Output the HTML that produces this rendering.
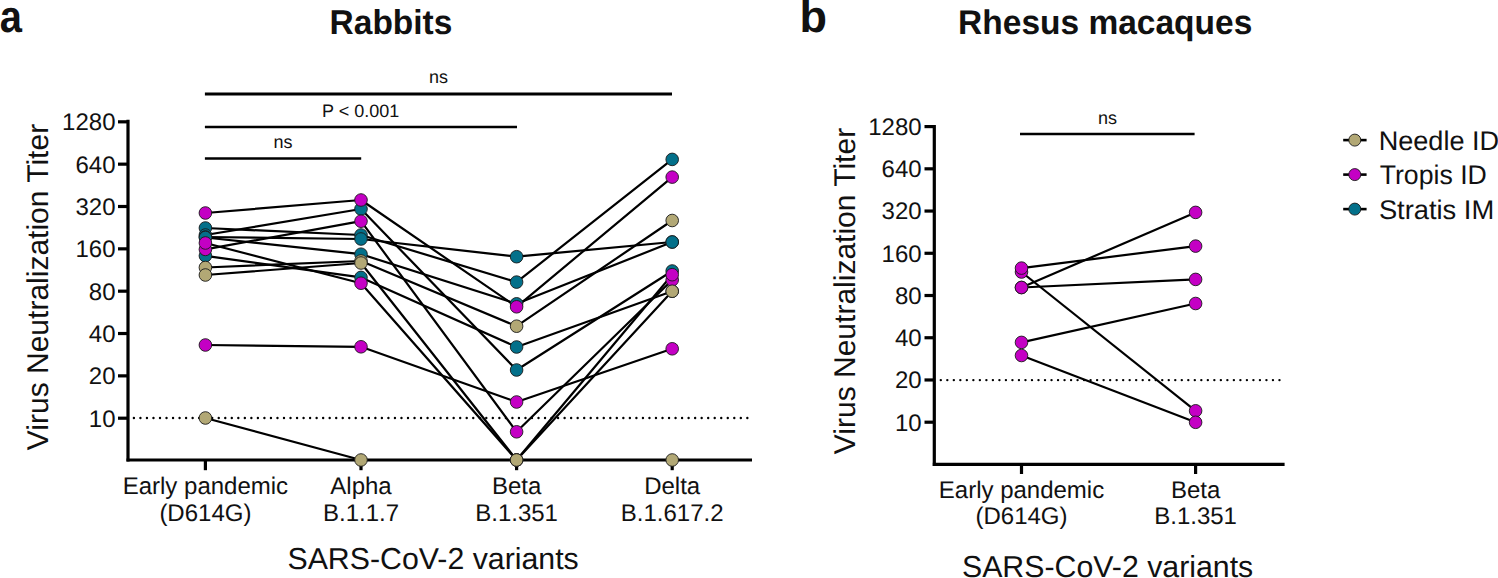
<!DOCTYPE html>
<html><head><meta charset="utf-8"><style>
html,body{margin:0;padding:0;background:#fff;}
body{width:1498px;height:578px;overflow:hidden;font-family:"Liberation Sans",sans-serif;}
svg{display:block;} text{text-rendering:geometricPrecision;}
</style></head><body>
<svg width="1498" height="578" viewBox="0 0 1498 578" font-family="Liberation Sans, sans-serif" fill="#111"><line x1="128" y1="119.8" x2="128" y2="461.5" stroke="#000" stroke-width="3.2" />
<line x1="126.5" y1="460" x2="752" y2="460" stroke="#000" stroke-width="3.2" />
<line x1="118" y1="121.82" x2="128" y2="121.82" stroke="#000" stroke-width="3.2" />
<text x="115.5" y="130.22" font-size="24" text-anchor="end" font-weight="normal" >1280</text>
<line x1="118" y1="164.16" x2="128" y2="164.16" stroke="#000" stroke-width="3.2" />
<text x="115.5" y="172.56" font-size="24" text-anchor="end" font-weight="normal" >640</text>
<line x1="118" y1="206.5" x2="128" y2="206.5" stroke="#000" stroke-width="3.2" />
<text x="115.5" y="214.9" font-size="24" text-anchor="end" font-weight="normal" >320</text>
<line x1="118" y1="248.84" x2="128" y2="248.84" stroke="#000" stroke-width="3.2" />
<text x="115.5" y="257.24" font-size="24" text-anchor="end" font-weight="normal" >160</text>
<line x1="118" y1="291.18" x2="128" y2="291.18" stroke="#000" stroke-width="3.2" />
<text x="115.5" y="299.58" font-size="24" text-anchor="end" font-weight="normal" >80</text>
<line x1="118" y1="333.52" x2="128" y2="333.52" stroke="#000" stroke-width="3.2" />
<text x="115.5" y="341.92" font-size="24" text-anchor="end" font-weight="normal" >40</text>
<line x1="118" y1="375.86" x2="128" y2="375.86" stroke="#000" stroke-width="3.2" />
<text x="115.5" y="384.26" font-size="24" text-anchor="end" font-weight="normal" >20</text>
<line x1="118" y1="418.2" x2="128" y2="418.2" stroke="#000" stroke-width="3.2" />
<text x="115.5" y="426.6" font-size="24" text-anchor="end" font-weight="normal" >10</text>
<line x1="205.4" y1="460" x2="205.4" y2="470.2" stroke="#000" stroke-width="3.2" />
<line x1="361.0" y1="460" x2="361.0" y2="470.2" stroke="#000" stroke-width="3.2" />
<line x1="516.6" y1="460" x2="516.6" y2="470.2" stroke="#000" stroke-width="3.2" />
<line x1="672.2" y1="460" x2="672.2" y2="470.2" stroke="#000" stroke-width="3.2" />
<line x1="133.9" y1="418" x2="748" y2="418" stroke="#000" stroke-width="2.4" stroke-linecap="round" stroke-dasharray="0 6.526"/>
<text x="205.4" y="493.9" font-size="24" text-anchor="middle" font-weight="normal" >Early pandemic</text>
<text x="205.4" y="520.9" font-size="24" text-anchor="middle" font-weight="normal" >(D614G)</text>
<text x="361.0" y="493.9" font-size="24" text-anchor="middle" font-weight="normal" >Alpha</text>
<text x="361.0" y="520.9" font-size="24" text-anchor="middle" font-weight="normal" >B.1.1.7</text>
<text x="516.6" y="493.9" font-size="24" text-anchor="middle" font-weight="normal" >Beta</text>
<text x="516.6" y="520.9" font-size="24" text-anchor="middle" font-weight="normal" >B.1.351</text>
<text x="672.2" y="493.9" font-size="24" text-anchor="middle" font-weight="normal" >Delta</text>
<text x="672.2" y="520.9" font-size="24" text-anchor="middle" font-weight="normal" >B.1.617.2</text>
<text x="433.1" y="568.9" font-size="30.3" text-anchor="middle" font-weight="normal" >SARS-CoV-2 variants</text>
<text x="0" y="0" font-size="30" text-anchor="middle" font-weight="normal" transform="translate(47.8,287) rotate(-90)">Virus Neutralization Titer</text>
<text x="391" y="33.8" font-size="34.5" text-anchor="middle" font-weight="bold" textLength="122.8" lengthAdjust="spacingAndGlyphs">Rabbits</text>
<text x="-0.3" y="32.3" font-size="45" text-anchor="start" font-weight="bold" textLength="22.2" lengthAdjust="spacingAndGlyphs">a</text>
<line x1="204.9" y1="94" x2="672" y2="94" stroke="#000" stroke-width="3" />
<text x="438.6" y="83.4" font-size="18" text-anchor="middle" font-weight="normal" >ns</text>
<line x1="204.9" y1="127" x2="517" y2="127" stroke="#000" stroke-width="2.4" />
<text x="360.6" y="116.5" font-size="18" text-anchor="middle" font-weight="normal" >P &lt; 0.001</text>
<line x1="204.9" y1="158.5" x2="361.2" y2="158.5" stroke="#000" stroke-width="2.4" />
<text x="283.1" y="147.8" font-size="18" text-anchor="middle" font-weight="normal" >ns</text>
<polyline points="205.4,228 361.0,235 516.6,282.1 672.2,159.4" fill="none" stroke="#000" stroke-width="2.2" stroke-linejoin="round"/>
<polyline points="205.4,235 361.0,209 516.6,370 672.2,271" fill="none" stroke="#000" stroke-width="2.2" stroke-linejoin="round"/>
<polyline points="205.4,237 361.0,239 516.6,256.7 672.2,242" fill="none" stroke="#000" stroke-width="2.2" stroke-linejoin="round"/>
<polyline points="205.4,237.5 361.0,254.2 516.6,303.8 672.2,242" fill="none" stroke="#000" stroke-width="2.2" stroke-linejoin="round"/>
<polyline points="205.4,255.8 361.0,277.4 516.6,347 672.2,291.2" fill="none" stroke="#000" stroke-width="2.2" stroke-linejoin="round"/>
<polyline points="205.4,213 361.0,200 516.6,306.8 672.2,177.1" fill="none" stroke="#000" stroke-width="2.2" stroke-linejoin="round"/>
<polyline points="205.4,249.4 361.0,221.2 516.6,431.8 672.2,280" fill="none" stroke="#000" stroke-width="2.2" stroke-linejoin="round"/>
<polyline points="205.4,243 361.0,283.2 516.6,460 672.2,274.7" fill="none" stroke="#000" stroke-width="2.2" stroke-linejoin="round"/>
<polyline points="205.4,345 361.0,346.8 516.6,402 672.2,348.8" fill="none" stroke="#000" stroke-width="2.2" stroke-linejoin="round"/>
<polyline points="205.4,267.5 361.0,261 516.6,326.2 672.2,220.5" fill="none" stroke="#000" stroke-width="2.2" stroke-linejoin="round"/>
<polyline points="205.4,275 361.0,263 516.6,460 672.2,291.2" fill="none" stroke="#000" stroke-width="2.2" stroke-linejoin="round"/>
<polyline points="205.4,418 361.0,460 516.6,460 672.2,460" fill="none" stroke="#000" stroke-width="2.2" stroke-linejoin="round"/>
<circle cx="205.4" cy="228" r="6.3" fill="#03708A" stroke="#1a1a1a" stroke-width="0.9"/>
<circle cx="361.0" cy="235" r="6.3" fill="#03708A" stroke="#1a1a1a" stroke-width="0.9"/>
<circle cx="516.6" cy="282.1" r="6.3" fill="#03708A" stroke="#1a1a1a" stroke-width="0.9"/>
<circle cx="672.2" cy="159.4" r="6.3" fill="#03708A" stroke="#1a1a1a" stroke-width="0.9"/>
<circle cx="205.4" cy="235" r="6.3" fill="#03708A" stroke="#1a1a1a" stroke-width="0.9"/>
<circle cx="361.0" cy="209" r="6.3" fill="#03708A" stroke="#1a1a1a" stroke-width="0.9"/>
<circle cx="516.6" cy="370" r="6.3" fill="#03708A" stroke="#1a1a1a" stroke-width="0.9"/>
<circle cx="672.2" cy="271" r="6.3" fill="#03708A" stroke="#1a1a1a" stroke-width="0.9"/>
<circle cx="205.4" cy="237" r="6.3" fill="#03708A" stroke="#1a1a1a" stroke-width="0.9"/>
<circle cx="361.0" cy="239" r="6.3" fill="#03708A" stroke="#1a1a1a" stroke-width="0.9"/>
<circle cx="516.6" cy="256.7" r="6.3" fill="#03708A" stroke="#1a1a1a" stroke-width="0.9"/>
<circle cx="672.2" cy="242" r="6.3" fill="#03708A" stroke="#1a1a1a" stroke-width="0.9"/>
<circle cx="205.4" cy="237.5" r="6.3" fill="#03708A" stroke="#1a1a1a" stroke-width="0.9"/>
<circle cx="361.0" cy="254.2" r="6.3" fill="#03708A" stroke="#1a1a1a" stroke-width="0.9"/>
<circle cx="516.6" cy="303.8" r="6.3" fill="#03708A" stroke="#1a1a1a" stroke-width="0.9"/>
<circle cx="672.2" cy="242" r="6.3" fill="#03708A" stroke="#1a1a1a" stroke-width="0.9"/>
<circle cx="205.4" cy="255.8" r="6.3" fill="#03708A" stroke="#1a1a1a" stroke-width="0.9"/>
<circle cx="361.0" cy="277.4" r="6.3" fill="#03708A" stroke="#1a1a1a" stroke-width="0.9"/>
<circle cx="516.6" cy="347" r="6.3" fill="#03708A" stroke="#1a1a1a" stroke-width="0.9"/>
<circle cx="672.2" cy="291.2" r="6.3" fill="#03708A" stroke="#1a1a1a" stroke-width="0.9"/>
<circle cx="205.4" cy="213" r="6.3" fill="#C400C4" stroke="#1a1a1a" stroke-width="0.9"/>
<circle cx="361.0" cy="200" r="6.3" fill="#C400C4" stroke="#1a1a1a" stroke-width="0.9"/>
<circle cx="516.6" cy="306.8" r="6.3" fill="#C400C4" stroke="#1a1a1a" stroke-width="0.9"/>
<circle cx="672.2" cy="177.1" r="6.3" fill="#C400C4" stroke="#1a1a1a" stroke-width="0.9"/>
<circle cx="205.4" cy="249.4" r="6.3" fill="#C400C4" stroke="#1a1a1a" stroke-width="0.9"/>
<circle cx="361.0" cy="221.2" r="6.3" fill="#C400C4" stroke="#1a1a1a" stroke-width="0.9"/>
<circle cx="516.6" cy="431.8" r="6.3" fill="#C400C4" stroke="#1a1a1a" stroke-width="0.9"/>
<circle cx="672.2" cy="280" r="6.3" fill="#C400C4" stroke="#1a1a1a" stroke-width="0.9"/>
<circle cx="205.4" cy="243" r="6.3" fill="#C400C4" stroke="#1a1a1a" stroke-width="0.9"/>
<circle cx="361.0" cy="283.2" r="6.3" fill="#C400C4" stroke="#1a1a1a" stroke-width="0.9"/>
<circle cx="516.6" cy="460" r="6.3" fill="#C400C4" stroke="#1a1a1a" stroke-width="0.9"/>
<circle cx="672.2" cy="274.7" r="6.3" fill="#C400C4" stroke="#1a1a1a" stroke-width="0.9"/>
<circle cx="205.4" cy="345" r="6.3" fill="#C400C4" stroke="#1a1a1a" stroke-width="0.9"/>
<circle cx="361.0" cy="346.8" r="6.3" fill="#C400C4" stroke="#1a1a1a" stroke-width="0.9"/>
<circle cx="516.6" cy="402" r="6.3" fill="#C400C4" stroke="#1a1a1a" stroke-width="0.9"/>
<circle cx="672.2" cy="348.8" r="6.3" fill="#C400C4" stroke="#1a1a1a" stroke-width="0.9"/>
<circle cx="205.4" cy="267.5" r="6.3" fill="#B2A875" stroke="#1a1a1a" stroke-width="0.9"/>
<circle cx="361.0" cy="261" r="6.3" fill="#B2A875" stroke="#1a1a1a" stroke-width="0.9"/>
<circle cx="516.6" cy="326.2" r="6.3" fill="#B2A875" stroke="#1a1a1a" stroke-width="0.9"/>
<circle cx="672.2" cy="220.5" r="6.3" fill="#B2A875" stroke="#1a1a1a" stroke-width="0.9"/>
<circle cx="205.4" cy="275" r="6.3" fill="#B2A875" stroke="#1a1a1a" stroke-width="0.9"/>
<circle cx="361.0" cy="263" r="6.3" fill="#B2A875" stroke="#1a1a1a" stroke-width="0.9"/>
<circle cx="516.6" cy="460" r="6.3" fill="#B2A875" stroke="#1a1a1a" stroke-width="0.9"/>
<circle cx="672.2" cy="291.2" r="6.3" fill="#B2A875" stroke="#1a1a1a" stroke-width="0.9"/>
<circle cx="205.4" cy="418" r="6.3" fill="#B2A875" stroke="#1a1a1a" stroke-width="0.9"/>
<circle cx="361.0" cy="460" r="6.3" fill="#B2A875" stroke="#1a1a1a" stroke-width="0.9"/>
<circle cx="516.6" cy="460" r="6.3" fill="#B2A875" stroke="#1a1a1a" stroke-width="0.9"/>
<circle cx="672.2" cy="460" r="6.3" fill="#B2A875" stroke="#1a1a1a" stroke-width="0.9"/>
<line x1="934.3" y1="125" x2="934.3" y2="466" stroke="#000" stroke-width="3.2" />
<line x1="932.8" y1="464.4" x2="1284.6" y2="464.4" stroke="#000" stroke-width="3.2" />
<line x1="924.5" y1="126.59" x2="934.3" y2="126.59" stroke="#000" stroke-width="3.2" />
<text x="921.6" y="134.99" font-size="24" text-anchor="end" font-weight="normal" >1280</text>
<line x1="924.5" y1="168.82" x2="934.3" y2="168.82" stroke="#000" stroke-width="3.2" />
<text x="921.6" y="177.22" font-size="24" text-anchor="end" font-weight="normal" >640</text>
<line x1="924.5" y1="211.05" x2="934.3" y2="211.05" stroke="#000" stroke-width="3.2" />
<text x="921.6" y="219.45" font-size="24" text-anchor="end" font-weight="normal" >320</text>
<line x1="924.5" y1="253.28" x2="934.3" y2="253.28" stroke="#000" stroke-width="3.2" />
<text x="921.6" y="261.68" font-size="24" text-anchor="end" font-weight="normal" >160</text>
<line x1="924.5" y1="295.51" x2="934.3" y2="295.51" stroke="#000" stroke-width="3.2" />
<text x="921.6" y="303.91" font-size="24" text-anchor="end" font-weight="normal" >80</text>
<line x1="924.5" y1="337.74" x2="934.3" y2="337.74" stroke="#000" stroke-width="3.2" />
<text x="921.6" y="346.14" font-size="24" text-anchor="end" font-weight="normal" >40</text>
<line x1="924.5" y1="379.97" x2="934.3" y2="379.97" stroke="#000" stroke-width="3.2" />
<text x="921.6" y="388.37" font-size="24" text-anchor="end" font-weight="normal" >20</text>
<line x1="924.5" y1="422.2" x2="934.3" y2="422.2" stroke="#000" stroke-width="3.2" />
<text x="921.6" y="430.6" font-size="24" text-anchor="end" font-weight="normal" >10</text>
<line x1="1021.5" y1="464.4" x2="1021.5" y2="474" stroke="#000" stroke-width="3.2" />
<line x1="1195.6" y1="464.4" x2="1195.6" y2="474" stroke="#000" stroke-width="3.2" />
<line x1="940.8" y1="380.1" x2="1279.5" y2="380.1" stroke="#000" stroke-width="2.4" stroke-linecap="round" stroke-dasharray="0 6.513"/>
<text x="1021.5" y="497.6" font-size="24" text-anchor="middle" font-weight="normal" >Early pandemic</text>
<text x="1021.5" y="524.4" font-size="24" text-anchor="middle" font-weight="normal" >(D614G)</text>
<text x="1195.6" y="497.6" font-size="24" text-anchor="middle" font-weight="normal" >Beta</text>
<text x="1195.6" y="524.4" font-size="24" text-anchor="middle" font-weight="normal" >B.1.351</text>
<text x="1107.6" y="576.6" font-size="30.3" text-anchor="middle" font-weight="normal" >SARS-CoV-2 variants</text>
<text x="0" y="0" font-size="30" text-anchor="middle" font-weight="normal" transform="translate(854.9,291) rotate(-90)">Virus Neutralization Titer</text>
<text x="1105.2" y="33.7" font-size="34.3" text-anchor="middle" font-weight="bold" textLength="294.2" lengthAdjust="spacingAndGlyphs">Rhesus macaques</text>
<text x="799.5" y="32.3" font-size="45" text-anchor="start" font-weight="bold" >b</text>
<line x1="1020" y1="134" x2="1194.6" y2="134" stroke="#000" stroke-width="2.6" />
<text x="1107.5" y="123.8" font-size="18" text-anchor="middle" font-weight="normal" >ns</text>
<line x1="1021.5" y1="272" x2="1195.6" y2="410.8" stroke="#000" stroke-width="2.2" />
<line x1="1021.5" y1="268.1" x2="1195.6" y2="246.1" stroke="#000" stroke-width="2.2" />
<line x1="1021.5" y1="287.5" x2="1195.6" y2="212.4" stroke="#000" stroke-width="2.2" />
<line x1="1021.5" y1="287.5" x2="1195.6" y2="279.4" stroke="#000" stroke-width="2.2" />
<line x1="1021.5" y1="342.4" x2="1195.6" y2="303.5" stroke="#000" stroke-width="2.2" />
<line x1="1021.5" y1="355.5" x2="1195.6" y2="422.3" stroke="#000" stroke-width="2.2" />
<circle cx="1021.5" cy="272" r="6.3" fill="#C400C4" stroke="#1a1a1a" stroke-width="0.9"/>
<circle cx="1195.6" cy="410.8" r="6.3" fill="#C400C4" stroke="#1a1a1a" stroke-width="0.9"/>
<circle cx="1021.5" cy="268.1" r="6.3" fill="#C400C4" stroke="#1a1a1a" stroke-width="0.9"/>
<circle cx="1195.6" cy="246.1" r="6.3" fill="#C400C4" stroke="#1a1a1a" stroke-width="0.9"/>
<circle cx="1021.5" cy="287.5" r="6.3" fill="#C400C4" stroke="#1a1a1a" stroke-width="0.9"/>
<circle cx="1195.6" cy="212.4" r="6.3" fill="#C400C4" stroke="#1a1a1a" stroke-width="0.9"/>
<circle cx="1021.5" cy="287.5" r="6.3" fill="#C400C4" stroke="#1a1a1a" stroke-width="0.9"/>
<circle cx="1195.6" cy="279.4" r="6.3" fill="#C400C4" stroke="#1a1a1a" stroke-width="0.9"/>
<circle cx="1021.5" cy="342.4" r="6.3" fill="#C400C4" stroke="#1a1a1a" stroke-width="0.9"/>
<circle cx="1195.6" cy="303.5" r="6.3" fill="#C400C4" stroke="#1a1a1a" stroke-width="0.9"/>
<circle cx="1021.5" cy="355.5" r="6.3" fill="#C400C4" stroke="#1a1a1a" stroke-width="0.9"/>
<circle cx="1195.6" cy="422.3" r="6.3" fill="#C400C4" stroke="#1a1a1a" stroke-width="0.9"/>
<line x1="1343.2" y1="140.1" x2="1366.6" y2="140.1" stroke="#000" stroke-width="2.6" />
<circle cx="1354.8" cy="140.1" r="6.0" fill="#B2A875" stroke="#1a1a1a" stroke-width="0.9"/>
<text x="1378.7" y="149.6" font-size="27" text-anchor="start" font-weight="normal" textLength="120.4" lengthAdjust="spacingAndGlyphs">Needle ID</text>
<line x1="1343.2" y1="174.6" x2="1366.6" y2="174.6" stroke="#000" stroke-width="2.6" />
<circle cx="1354.8" cy="174.6" r="6.0" fill="#C400C4" stroke="#1a1a1a" stroke-width="0.9"/>
<text x="1379.7" y="183.9" font-size="27" text-anchor="start" font-weight="normal" textLength="107.1" lengthAdjust="spacingAndGlyphs">Tropis ID</text>
<line x1="1343.2" y1="209.1" x2="1366.6" y2="209.1" stroke="#000" stroke-width="2.6" />
<circle cx="1354.8" cy="209.1" r="6.0" fill="#03708A" stroke="#1a1a1a" stroke-width="0.9"/>
<text x="1378.9" y="218.7" font-size="27" text-anchor="start" font-weight="normal" textLength="115.3" lengthAdjust="spacingAndGlyphs">Stratis IM</text></svg>
</body></html>
